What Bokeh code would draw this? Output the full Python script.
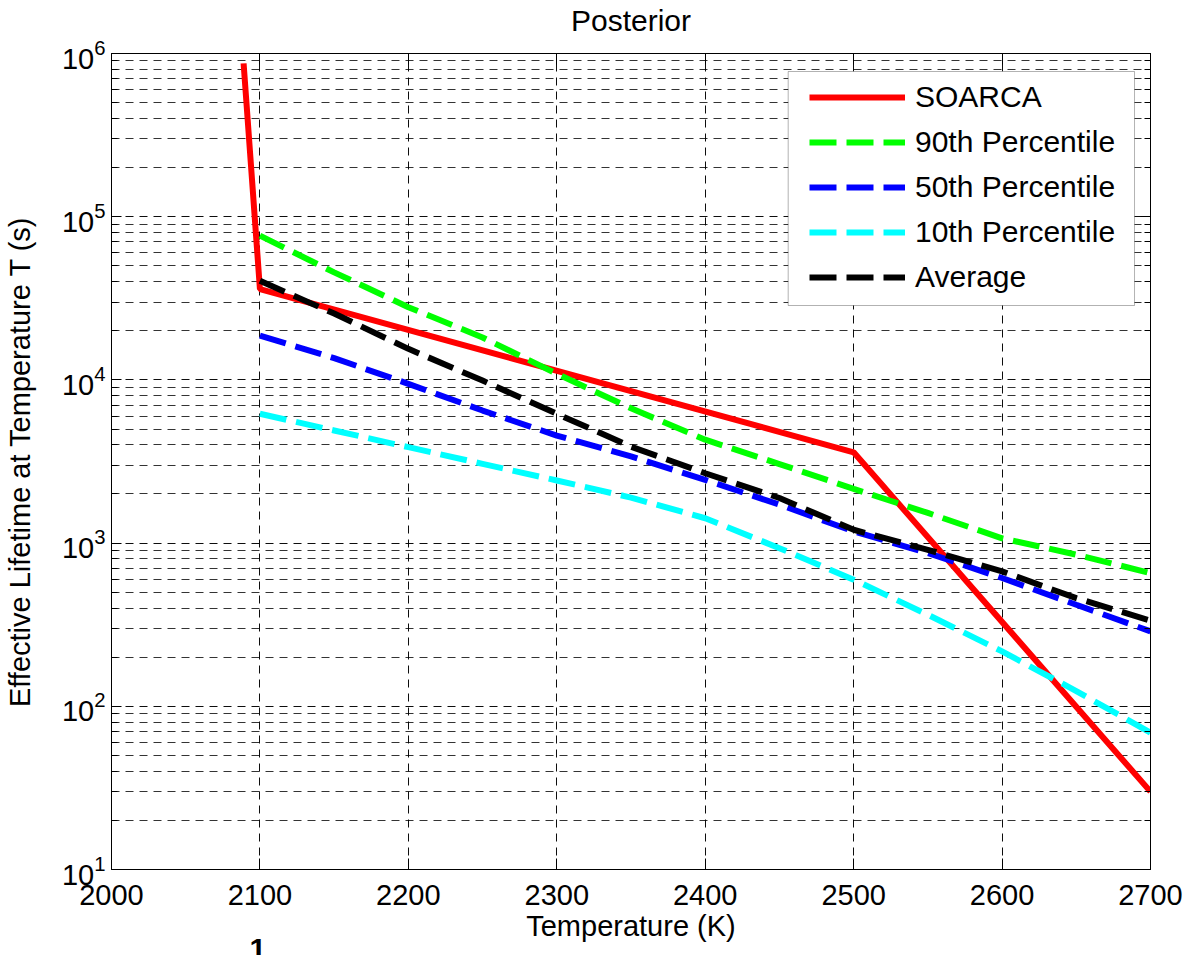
import math
from bokeh.plotting import figure
from bokeh.models import (FixedTicker, LinearAxis, LogAxis, Legend, LegendItem, Title,
                          BoxAnnotation, CustomJSTickFormatter, Range1d, LogTickFormatter)
from bokeh.embed import file_html
from bokeh.resources import INLINE

# ---- data -------------------------------------------------------------
soarca_t = [2089, 2100, 2500, 2700]
soarca_life = [8.7e5, 3.6e4, 3.6e3, 30]

temps = [2100, 2150, 2200, 2250, 2300, 2350, 2400, 2450, 2500, 2550, 2600, 2650, 2700]
p90 = [76600, 45600, 27900, 18200, 10900, 6700, 4300, 3050, 2150, 1530, 1070, 850, 655]
p50 = [18700, 13600, 9460, 6490, 4560, 3400, 2440, 1720, 1180, 869, 611, 419, 288]
p10 = [6200, 4900, 3870, 3060, 2420, 1900, 1420, 931, 597, 364, 217, 124, 69]
avg = [40500, 25500, 15500, 9900, 6200, 3900, 2680, 1890, 1207, 910, 671, 460, 335]

x_ticks = [2000, 2100, 2200, 2300, 2400, 2500, 2600, 2700]
y_exponents = [1, 2, 3, 4, 5, 6]

# ---- layout constants --------------------------------------------------
W, H = 1185, 955
FL, FR, FT, FB = 109, 1150, 53, 869
X0, X1 = 2000, 2700
LY0, LY1 = 1, 6
FONT = "Liberation Sans"
FS = "29px"


def px_to_x(px):
    return X0 + (px - FL) / (FR - FL) * (X1 - X0)


def py_to_y(py):
    return 10 ** (LY1 - (py - FT) / (FB - FT) * (LY1 - LY0))


p = figure(width=W, height=H, x_range=Range1d(X0, X1), y_range=Range1d(10 ** LY0, 10 ** LY1),
           y_axis_type="log", output_backend="svg", toolbar_location=None,
           min_border_left=FL, min_border_right=W - FR, min_border_top=FT, min_border_bottom=H - FB,
           background_fill_color="white", border_fill_color="white")
p.title = None

p.outline_line_color = "black"
p.outline_line_width = 1

# tickers
xt = FixedTicker(ticks=x_ticks)
major_y = [10.0 ** e for e in y_exponents]
minor_y = [m * 10.0 ** e for e in range(LY0, LY1) for m in range(2, 10)]
yt = FixedTicker(ticks=major_y, minor_ticks=minor_y)

for ax in p.xaxis:
    ax.ticker = xt
    ax.axis_label = "Temperature (K)"
    ax.major_tick_in = 11
    ax.major_tick_out = 0
    ax.minor_tick_line_color = None
    ax.major_label_standoff = 15
    ax.axis_label_standoff = 2

for ax in p.yaxis:
    ax.ticker = yt
    ax.formatter = LogTickFormatter()
    ax.axis_label = "Effective Lifetime at Temperature T (s)"
    ax.major_tick_in = 10
    ax.major_tick_out = 0
    ax.minor_tick_in = 6
    ax.minor_tick_out = 0
    ax.minor_tick_line_color = "black"
    ax.major_label_standoff = 6
    ax.axis_label_standoff = 23

for ax in list(p.xaxis) + list(p.yaxis):
    ax.axis_line_color = "black"
    ax.major_tick_line_color = "black"
    ax.major_label_text_font = FONT
    ax.major_label_text_font_size = FS
    ax.major_label_text_color = "black"
    ax.axis_label_text_font = FONT
    ax.axis_label_text_font_size = FS
    ax.axis_label_text_font_style = "normal"
    ax.axis_label_text_color = "black"

# mirrored tick marks on the top and right edges (no labels)
top_ax = LinearAxis(ticker=xt, formatter=CustomJSTickFormatter(code="return ' '"),
                    major_tick_in=11, major_tick_out=0,
                    minor_tick_line_color=None, axis_line_color="black",
                    major_label_standoff=13, major_label_text_font_size="1px")
right_ax = LogAxis(ticker=yt, formatter=CustomJSTickFormatter(code="return ''"),
                   major_tick_in=10, major_tick_out=0,
                   minor_tick_in=6, minor_tick_out=0, axis_line_color="black",
                   major_label_standoff=0, major_label_text_font_size="1px")
p.add_layout(top_ax, "above")
p.add_layout(right_ax, "right")

# title, stacked outside the top axis
p.add_layout(Title(text="Posterior", align="center", standoff=0, text_font=FONT,
                   text_font_size="30px", text_font_style="normal", text_color="black"),
             "above")

# dashed grid
for g in (p.xgrid, p.ygrid):
    g.grid_line_color = "black"
    g.grid_line_dash = "8 6"
    g.grid_line_width = 1
    g.grid_line_alpha = 0.95
p.xgrid.ticker = xt
p.ygrid.ticker = yt
p.ygrid.minor_grid_line_color = "black"
p.ygrid.minor_grid_line_dash = "8 6"
p.ygrid.minor_grid_line_alpha = 0.8

# curves
LW = 6
DASH = "27 10"
r_soarca = p.line(soarca_t, soarca_life, line_color="#ff0000", line_width=LW)
r_90 = p.line(temps, p90, line_color="#00ff00", line_width=LW, line_dash=DASH)
r_50 = p.line(temps, p50, line_color="#0000ff", line_width=LW, line_dash=DASH)
r_10 = p.line(temps, p10, line_color="#00ffff", line_width=LW, line_dash=DASH)
r_avg = p.line(temps, avg, line_color="#000000", line_width=LW, line_dash=DASH)

# legend frame and entries
p.add_layout(BoxAnnotation(left=px_to_x(787), right=px_to_x(1134),
                           top=py_to_y(71), bottom=py_to_y(305),
                           fill_color="white", fill_alpha=1.0,
                           line_color="black", line_width=1))
legend = Legend(items=[LegendItem(label="SOARCA", renderers=[r_soarca]),
                       LegendItem(label="90th Percentile", renderers=[r_90]),
                       LegendItem(label="50th Percentile", renderers=[r_50]),
                       LegendItem(label="10th Percentile", renderers=[r_10]),
                       LegendItem(label="Average", renderers=[r_avg])],
                location=(807 - FL, FB - 295), padding=0, margin=0, spacing=9,
                glyph_width=96, glyph_height=36, label_height=36, label_standoff=10,
                label_text_font=FONT, label_text_font_size="30px", label_text_color="black",
                background_fill_alpha=0, border_line_alpha=0)
p.add_layout(legend, "center")

# figure number fragment under the axis
p.add_layout(Title(text="1", align="left", offset=138, vertical_align="bottom", standoff=-15,
                   text_font=FONT, text_font_size="30px", text_font_style="bold",
                   text_color="black"), "below")

open("out.html", "w").write(file_html(p, INLINE))
